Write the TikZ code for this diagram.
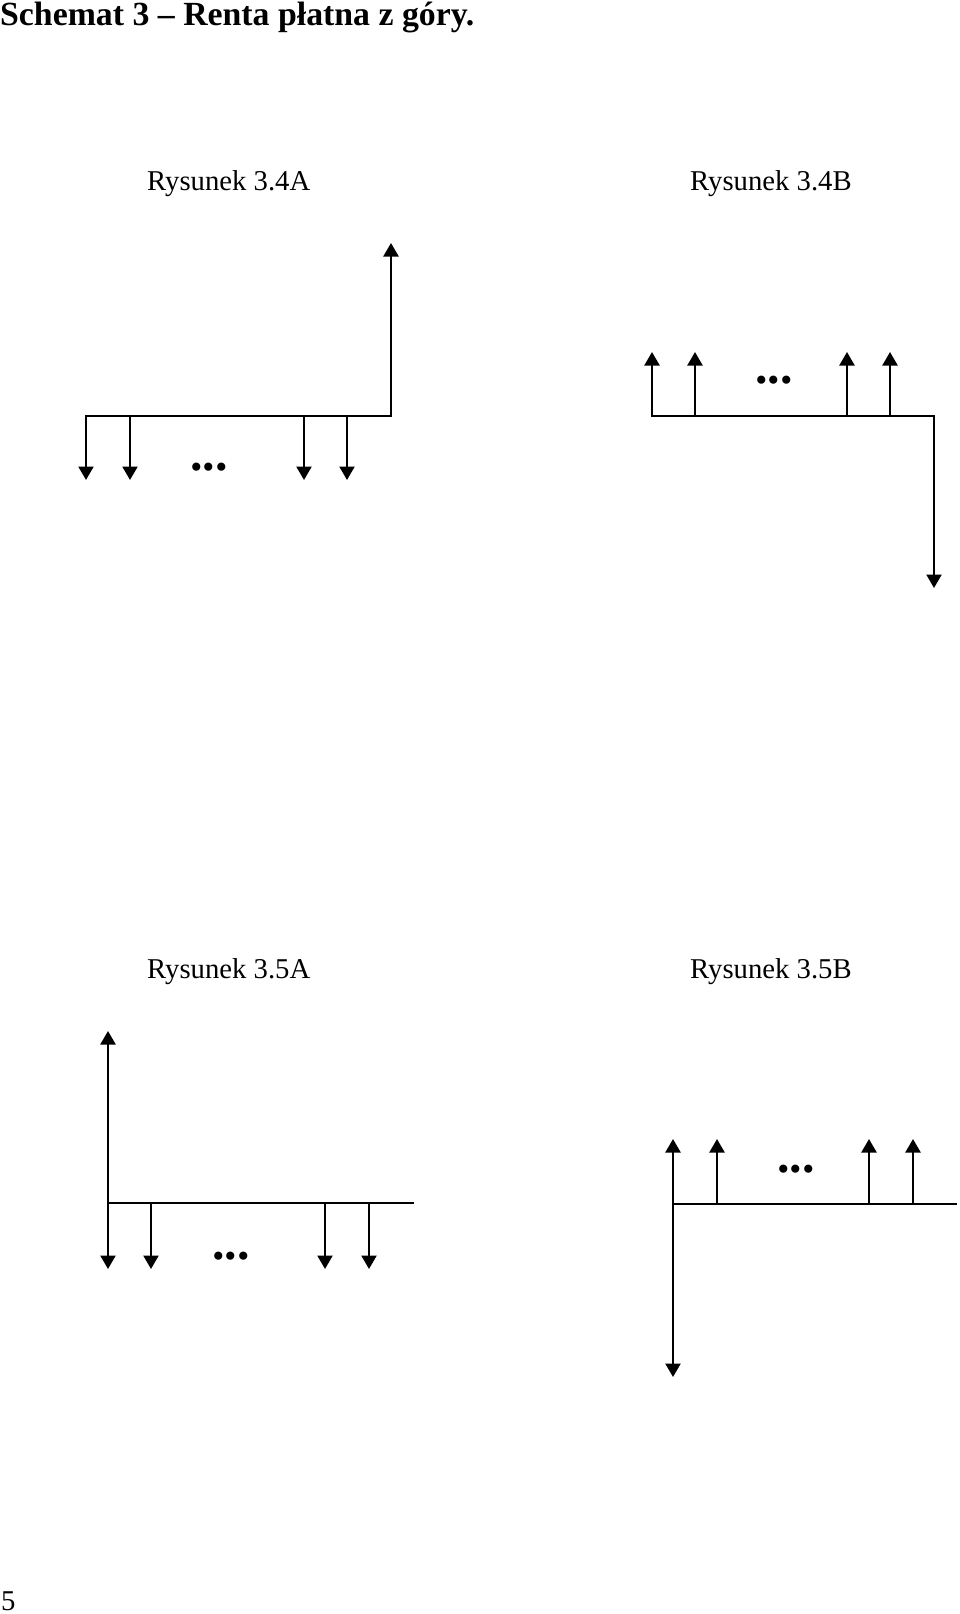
\documentclass[tikz,border=0pt]{standalone}
\usepackage{fontspec}
\setmainfont{Liberation Serif}
\usetikzlibrary{arrows.meta}
\begin{document}
\begin{tikzpicture}[x=1pt,y=-1pt,
  flow/.style={line width=2.3pt,line cap=rect},
  thinseg/.style={line width=1.5pt},
  cash/.style={line width=2.3pt,-{Triangle[width=15pt,length=13.5pt]}},
  lbl/.style={font=\fontsize{28.7}{34}\selectfont,inner sep=0pt,anchor=base west},
  dotsnode/.style={font=\fontsize{50}{54}\selectfont\bfseries,inner sep=0pt,anchor=base}]
\useasboundingbox (0,0) rectangle (960,1614);
\fill[white] (0,0) rectangle (960,1614);

% texts
\node[inner sep=0pt,anchor=base west,font=\fontsize{33.8}{40}\selectfont\bfseries] (title) at (0,25) {Schemat 3 – Renta płatna z góry.};
\node[lbl] (l4a) at (147,190) {Rysunek 3.4A};
\node[lbl] (l4b) at (690,190) {Rysunek 3.4B};
\node[lbl] (l5a) at (147,978) {Rysunek 3.5A};
\node[lbl] (l5b) at (690,978) {Rysunek 3.5B};
\node[lbl] (page) at (1,1610) {5};

% ---- Rysunek 3.4A ----
\coordinate (a0) at (86,416);  \coordinate (a0d) at (86,480);
\coordinate (a1) at (130,416); \coordinate (a1d) at (130,480);
\coordinate (a2) at (304,416); \coordinate (a2d) at (304,480);
\coordinate (a3) at (347,416); \coordinate (a3d) at (347,480);
\coordinate (ae) at (391,416); \coordinate (at) at (391,243);
\draw[flow] (a0) -- (ae);
\draw[cash] (ae) -- (at);
\foreach \i in {0,1,2,3} {\draw[cash] (a\i) -- (a\i d);}
\node[dotsnode] (d4a) at (209,470) {...};

% ---- Rysunek 3.4B ----
\coordinate (b0) at (652,416); \coordinate (b0u) at (652,352);
\coordinate (b1) at (695,416); \coordinate (b1u) at (695,352);
\coordinate (b2) at (847,416); \coordinate (b2u) at (847,352);
\coordinate (b3) at (890,416); \coordinate (b3u) at (890,352);
\coordinate (bm1) at (737,416); \coordinate (bm2) at (827,416);
\coordinate (be) at (934,416); \coordinate (bt) at (934,588);
\draw[flow] (b0) -- (bm1);
\draw[thinseg] (bm1) -- (bm2);
\draw[flow] (bm2) -- (be);
\draw[cash] (be) -- (bt);
\foreach \i in {0,1,2,3} {\draw[cash] (b\i) -- (b\i u);}
\node[dotsnode] (d4b) at (774,383) {...};

% ---- Rysunek 3.5A ----
\coordinate (c0) at (108,1203); \coordinate (c0d) at (108,1269);
\coordinate (c1) at (151,1203); \coordinate (c1d) at (151,1269);
\coordinate (c2) at (325,1203); \coordinate (c2d) at (325,1269);
\coordinate (c3) at (369,1203); \coordinate (c3d) at (369,1269);
\coordinate (ce) at (413,1203); \coordinate (ct) at (108,1031);
\draw[flow] (c0) -- (ce);
\draw[cash] (c0) -- (ct);
\foreach \i in {0,1,2,3} {\draw[cash] (c\i) -- (c\i d);}
\node[dotsnode] (d5a) at (231,1259) {...};

% ---- Rysunek 3.5B ----
\coordinate (e0) at (673,1204); \coordinate (e0u) at (673,1139);
\coordinate (e1) at (717,1204); \coordinate (e1u) at (717,1139);
\coordinate (e2) at (869,1204); \coordinate (e2u) at (869,1139);
\coordinate (e3) at (913,1204); \coordinate (e3u) at (913,1139);
\coordinate (em1) at (760,1204); \coordinate (em2) at (847,1204);
\coordinate (ee) at (956,1204); \coordinate (eb) at (673,1377);
\draw[flow] (e0) -- (em1);
\draw[thinseg] (em1) -- (em2);
\draw[flow] (em2) -- (ee);
\draw[cash] (e0) -- (eb);
\foreach \i in {0,1,2,3} {\draw[cash] (e\i) -- (e\i u);}
\node[dotsnode] (d5b) at (796,1172) {...};
\end{tikzpicture}
\end{document}
